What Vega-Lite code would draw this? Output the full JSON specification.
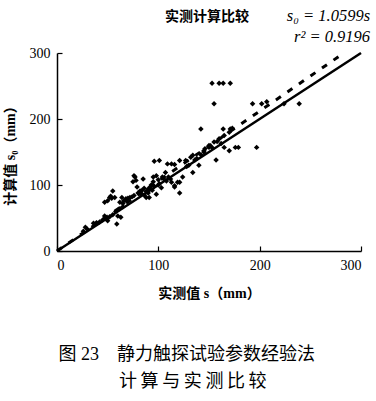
{
  "$schema": "https://vega.github.io/schema/vega-lite/v6.json",
  "autosize": "none",
  "width": 304,
  "height": 198,
  "padding": {"left": 57, "top": 53, "right": 15, "bottom": 150},
  "background": "white",
  "config": {"view": {"stroke": null}, "font": "Liberation Serif, Noto Sans CJK SC"},
  "datasets": {
    "pts": [
      {"s":153,"s0":254},{"s":160,"s0":254},{"s":164,"s0":254},{"s":171,"s0":254},
      {"s":155,"s0":223},{"s":193,"s0":223},{"s":202,"s0":223},{"s":207,"s0":226},{"s":224,"s0":223},{"s":239,"s0":223},
      {"s":142,"s0":185},{"s":164,"s0":185},{"s":171,"s0":185},{"s":173,"s0":186},
      {"s":197,"s0":157},{"s":165,"s0":157},{"s":176,"s0":157},{"s":179,"s0":157},{"s":170,"s0":152},{"s":157,"s0":138},
      {"s":150,"s0":157},{"s":153,"s0":157},{"s":146,"s0":155},{"s":145,"s0":152},{"s":150,"s0":160},{"s":155,"s0":165},
      {"s":145,"s0":150},{"s":140,"s0":130},{"s":134,"s0":119},{"s":132,"s0":142},{"s":134,"s0":145},{"s":121,"s0":137},
      {"s":127,"s0":137},{"s":113,"s0":132},{"s":116,"s0":131},{"s":109,"s0":132},{"s":101,"s0":137},{"s":96,"s0":136},
      {"s":124,"s0":112},{"s":121,"s0":104},{"s":116,"s0":97},{"s":116,"s0":99},{"s":113,"s0":104},{"s":121,"s0":88},
      {"s":119,"s0":104},{"s":103,"s0":96},
      {"s":107,"s0":119},{"s":104,"s0":112},{"s":98,"s0":114},{"s":95,"s0":112},{"s":101,"s0":102},{"s":98,"s0":86},
      {"s":91,"s0":81},{"s":88,"s0":81},{"s":93,"s0":100},{"s":95,"s0":105},{"s":100,"s0":108},{"s":105,"s0":110},
      {"s":108,"s0":106},{"s":110,"s0":112},{"s":112,"s0":109},
      {"s":77,"s0":112},{"s":78,"s0":107},{"s":85,"s0":109},{"s":79,"s0":97},{"s":82,"s0":91},{"s":72,"s0":81},
      {"s":66,"s0":76},{"s":62,"s0":74},{"s":57,"s0":81},{"s":55,"s0":91},{"s":52,"s0":81},{"s":47,"s0":74},
      {"s":84,"s0":92},{"s":86,"s0":95},{"s":88,"s0":90},{"s":90,"s0":94},{"s":92,"s0":97},{"s":80,"s0":88},
      {"s":83,"s0":86},{"s":76,"s0":84},{"s":70,"s0":80},{"s":68,"s0":77},{"s":74,"s0":82},{"s":86,"s0":85},
      {"s":90,"s0":88},{"s":94,"s0":92},{"s":96,"s0":98},{"s":100,"s0":100},
      {"s":63,"s0":51},{"s":60,"s0":53},{"s":59,"s0":41},{"s":49,"s0":48},{"s":50,"s0":46},{"s":47,"s0":53},
      {"s":52,"s0":52},{"s":55,"s0":55},{"s":45,"s0":47},{"s":48,"s0":50},{"s":39,"s0":43},{"s":36,"s0":42},
      {"s":28,"s0":36},{"s":26,"s0":30},{"s":30,"s0":33},{"s":42,"s0":44},{"s":58,"s0":60},{"s":62,"s0":64},
      {"s":65,"s0":67},
      {"s":50,"s0":76},{"s":54,"s0":80},{"s":53,"s0":83},{"s":65,"s0":72},{"s":68,"s0":79},{"s":64,"s0":81},
      {"s":75,"s0":105},{"s":76,"s0":114},
      {"s":160,"s0":170},{"s":165,"s0":175},{"s":170,"s0":180},{"s":162,"s0":163},{"s":158,"s0":166},
      {"s":130,"s0":130},{"s":128,"s0":128},{"s":136,"s0":138},{"s":138,"s0":140},{"s":142,"s0":146}
    ],
    "lines": [
      {"s":0,"s0":0,"k":"solid"},{"s":300,"s0":300,"k":"solid"},
      {"s":0,"s0":0,"k":"dash"},{"s":281,"s0":297.8,"k":"dash"}
    ],
    "one": [{}]
  },
  "layer": [
    {
      "data": {"name": "pts"},
      "mark": {"type": "point", "shape": "diamond", "filled": true, "size": 30, "color": "black", "opacity": 1},
      "encoding": {
        "x": {"field": "s", "type": "quantitative", "scale": {"domain": [0, 300], "nice": false},
          "axis": {"values": [0, 100, 200, 300], "tickSize": -5, "labelPadding": 12, "grid": false,
            "domainColor": "black", "domainWidth": 1.5, "tickColor": "black", "tickWidth": 1.2,
            "labelFont": "Liberation Serif", "labelFontSize": 14, "labelColor": "black",
            "title": "实测值 s（mm）", "titleFont": "Liberation Serif, Noto Sans CJK SC", "titleFontSize": 14,
            "titleFontWeight": "bold", "titleColor": "black", "titlePadding": 14}},
        "y": {"field": "s0", "type": "quantitative", "scale": {"domain": [0, 300], "nice": false},
          "axis": {"values": [0, 100, 200, 300], "tickSize": -5, "labelPadding": 12, "grid": false,
            "domainColor": "black", "domainWidth": 1.5, "tickColor": "black", "tickWidth": 1.2,
            "labelFont": "Liberation Serif", "labelFontSize": 14, "labelColor": "black",
            "title": "计算值 s₀（mm）", "titleFont": "Liberation Serif, Noto Sans CJK SC", "titleFontSize": 14,
            "titleFontWeight": "bold", "titleColor": "black", "titlePadding": 12}}
      }
    },
    {
      "data": {"name": "lines"},
      "transform": [{"filter": "datum.k == 'solid'"}],
      "mark": {"type": "line", "color": "black", "strokeWidth": 2.5, "clip": false},
      "encoding": {"x": {"field": "s", "type": "quantitative"}, "y": {"field": "s0", "type": "quantitative"}}
    },
    {
      "data": {"name": "lines"},
      "transform": [{"filter": "datum.k == 'dash'"}],
      "mark": {"type": "line", "color": "black", "strokeWidth": 3, "strokeDash": [6, 8], "clip": false},
      "encoding": {"x": {"field": "s", "type": "quantitative"}, "y": {"field": "s0", "type": "quantitative"}}
    },
    {
      "data": {"name": "one"},
      "mark": {"type": "text", "text": "实测计算比较", "font": "Noto Sans CJK SC", "fontSize": 14, "fontWeight": "bold", "align": "center", "baseline": "middle", "clip": false, "color": "black"},
      "encoding": {"x": {"datum": 148}, "y": {"datum": 354}}
    },
    {
      "data": {"name": "one"},
      "mark": {"type": "text", "text": "s₀ = 1.0599s", "font": "Liberation Serif", "fontSize": 16.5, "fontStyle": "italic", "align": "right", "baseline": "middle", "clip": false, "color": "black"},
      "encoding": {"x": {"datum": 309}, "y": {"datum": 356}}
    },
    {
      "data": {"name": "one"},
      "mark": {"type": "text", "text": "r² = 0.9196", "font": "Liberation Serif", "fontSize": 16.5, "fontStyle": "italic", "align": "right", "baseline": "middle", "clip": false, "color": "black"},
      "encoding": {"x": {"datum": 309}, "y": {"datum": 324}}
    },
    {
      "data": {"name": "one"},
      "mark": {"type": "text", "text": "图 23\u00a0\u00a0\u00a0\u00a0静力触探试验参数经验法", "font": "Liberation Serif, Noto Sans CJK SC", "fontSize": 18, "align": "center", "baseline": "middle", "clip": false, "color": "black"},
      "encoding": {"x": {"datum": 128}, "y": {"datum": -157.6}}
    },
    {
      "data": {"name": "one"},
      "mark": {"type": "text", "text": "计\u2009算\u2009与\u2009实\u2009测\u2009比\u2009较", "font": "Noto Sans CJK SC", "fontSize": 18, "align": "center", "baseline": "middle", "clip": false, "color": "black"},
      "encoding": {"x": {"datum": 134}, "y": {"datum": -198.5}}
    }
  ]
}
